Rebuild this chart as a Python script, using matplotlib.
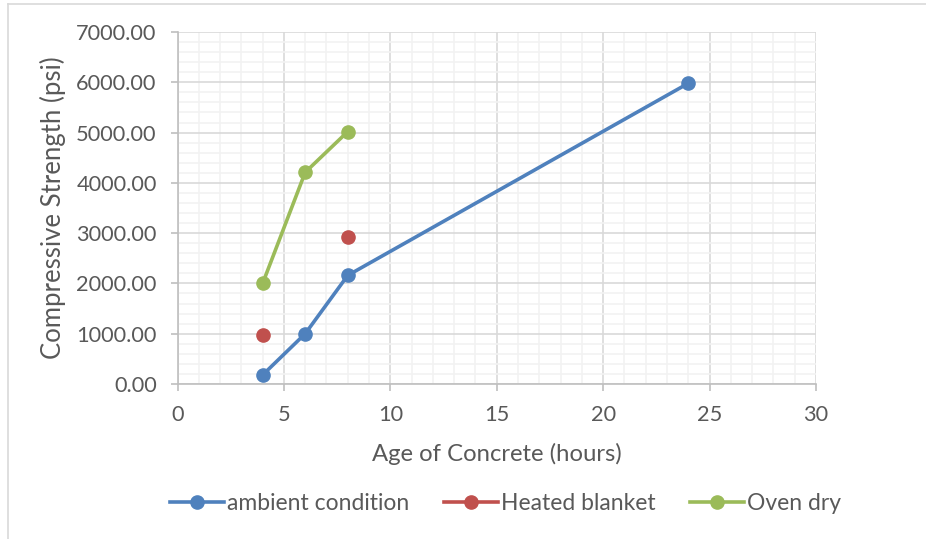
import matplotlib.pyplot as plt
from matplotlib.lines import Line2D
from matplotlib.ticker import MultipleLocator, FormatStrFormatter

plt.rcParams['font.family'] = ['Lato', 'DejaVu Sans']

# strength readings (psi) by age of concrete (hours)
ambient_hours = [4, 6, 8, 24]
ambient_psi = [180, 1000, 2160, 5980]
blanket_hours = [4, 8]
blanket_psi = [980, 2930]
oven_hours = [4, 6, 8]
oven_psi = [2000, 4210, 5020]

text_col = '#595959'
blue, red, green = '#4F81BD', '#C0504D', '#9BBB59'

fig = plt.figure(figsize=(9.26, 5.39), dpi=100)
ax = fig.add_axes([0.1917, 0.2876, 0.6895, 0.653])

ax.plot(ambient_hours, ambient_psi, color=blue, lw=2.6, marker='o', ms=9.5, zorder=3)
ax.plot(blanket_hours, blanket_psi, color=red, marker='o', ms=9.5,
        linestyle='none', zorder=3)
ax.plot(oven_hours, oven_psi, color=green, lw=2.6, marker='o', ms=9.5, zorder=3)

ax.set_xlim(0, 30)
ax.set_ylim(0, 7000)
ax.xaxis.set_major_locator(MultipleLocator(5))
ax.xaxis.set_minor_locator(MultipleLocator(1))
ax.yaxis.set_major_locator(MultipleLocator(1000))
ax.yaxis.set_minor_locator(MultipleLocator(200))
ax.yaxis.set_major_formatter(FormatStrFormatter('%.2f'))

ax.grid(which='minor', color='#F2F2F2', lw=1.2, zorder=0)
ax.grid(which='major', color='#D9D9D9', lw=1.2, zorder=1)
ax.set_axisbelow(True)

for side in ('top', 'right'):
    ax.spines[side].set_visible(False)
for side in ('left', 'bottom'):
    ax.spines[side].set_color('#BFBFBF')
    ax.spines[side].set_linewidth(1.2)

ax.tick_params(which='major', length=5, width=1.2, color='#BFBFBF',
               labelsize=15.7, labelcolor=text_col)
ax.tick_params(which='minor', length=0)
ax.tick_params(axis='x', pad=10)
ax.tick_params(axis='y', pad=10)

ax.set_xlabel('Age of Concrete (hours)', fontsize=17.2, color=text_col, labelpad=13)
ax.set_ylabel('Compressive Strength (psi)', fontsize=18.5, color=text_col, labelpad=7)

# legend keys always show line + marker
handles = [Line2D([], [], color=c, lw=2.6, marker='o', ms=9.5) for c in (blue, red, green)]
labels = ['ambient condition', 'Heated blanket', 'Oven dry']
fig.legend(handles, labels, loc='center', bbox_to_anchor=(0.546, 0.065),
           ncol=3, frameon=False, fontsize=16.5, handlelength=2.35,
           handletextpad=0.15, columnspacing=1.5, labelcolor=text_col)

# chart-area border
fig.add_artist(Line2D([8 / 926, 8 / 926], [0, 1 - 4 / 539], color='#D9D9D9', lw=1.2))
fig.add_artist(Line2D([8 / 926, 1], [1 - 4 / 539, 1 - 4 / 539], color='#D9D9D9', lw=1.2))

fig.savefig('out.png', dpi=100)
